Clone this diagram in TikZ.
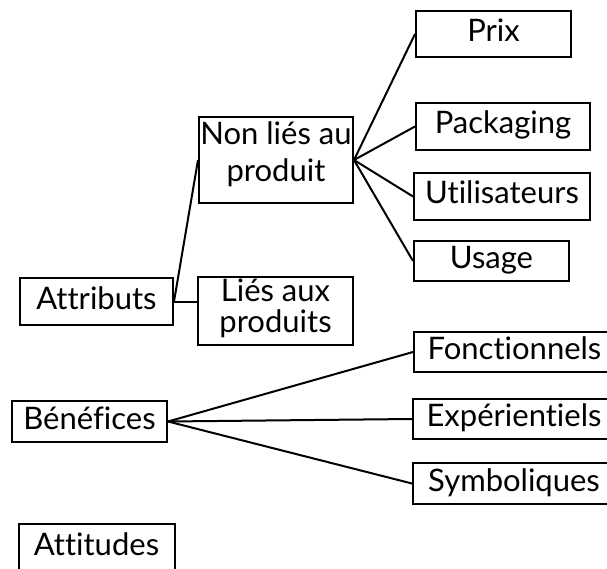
\documentclass[tikz,border=0pt]{standalone}
\usepackage{fontspec}
\setmainfont{Lato}[RawFeature={-liga,-clig,-calt,-dlig}]
\begin{document}
\begin{tikzpicture}[x=1pt,y=-1pt,
  box/.style={draw, line width=2pt, inner sep=0pt, align=center,
    text height=23pt, text depth=8pt, font=\fontsize{31}{37}\selectfont},
  conn/.style={line width=2pt}]
\useasboundingbox (0,0) rectangle (607,569);
\clip (0,0) rectangle (607,569);
% level 3
\node[box, minimum width=155pt, minimum height=46pt] (prix) at (493.5,34) {Prix};
\node[box, minimum width=174pt, minimum height=47pt] (pack) at (503,126.5) {Packaging};
\node[box, minimum width=176pt, minimum height=47pt] (util) at (502,196.5) {Utilisateurs};
\node[box, minimum width=155pt, minimum height=40pt] (usage) at (491.5,261) {Usage};
\node[box, minimum width=201pt, minimum height=40pt] (fonct) at (514.5,352) {Fonctionnels};
\node[box, minimum width=202pt, minimum height=40pt] (exper) at (514,419) {Expérientiels};
\node[box, minimum width=202pt, minimum height=41pt] (symb) at (514,483.5) {Symboliques};
% level 2
\node[box, minimum width=154pt, minimum height=86pt, text height=60pt, text depth=16pt] (nonlies) at (276,160) {Non liés au\\produit};
\node[box, minimum width=155pt, minimum height=68pt, text height=54pt, text depth=12pt, font=\fontsize{31}{31}\selectfont] (lies) at (275.5,311) {Liés aux\\produits};
% level 1
\node[box, minimum width=153pt, minimum height=47pt] (attr) at (96.5,301.5) {Attributs};
\node[box, minimum width=155pt, minimum height=41pt] (benef) at (89.5,421.5) {Bénéfices};
\node[box, minimum width=156pt, minimum height=48pt] (attit) at (96.5,547.5) {Attitudes};
% connectors
\draw[conn] (attr.east) -- (nonlies.west);
\draw[conn] (attr.east) -- (attr.east -| lies.west);
\foreach \c in {prix,pack,util,usage}
  \draw[conn] (nonlies.east) -- (\c.west);
\foreach \c in {fonct,exper,symb}
  \draw[conn] (benef.east) -- (\c.west);
\end{tikzpicture}
\end{document}
